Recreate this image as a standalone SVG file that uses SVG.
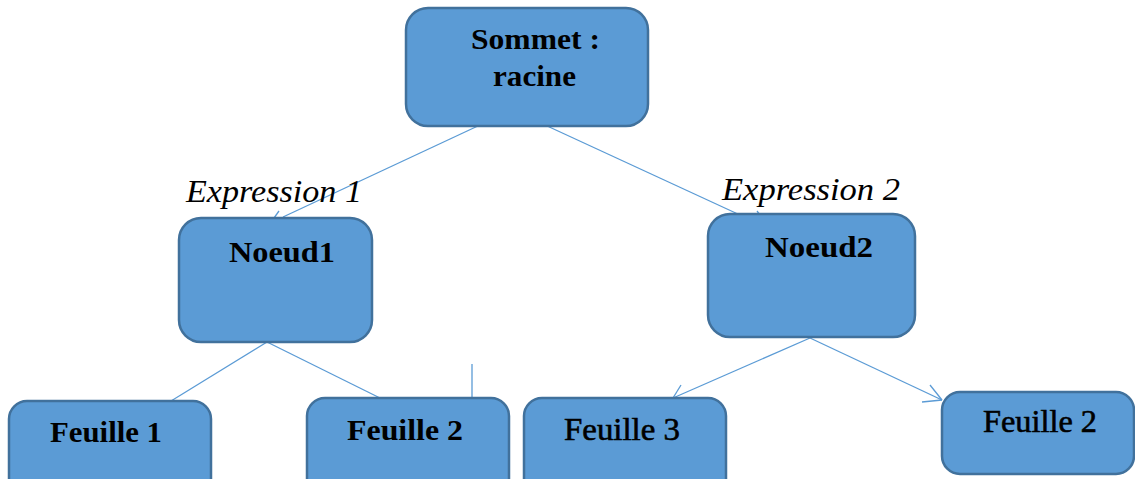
<svg xmlns="http://www.w3.org/2000/svg" width="1135" height="479" viewBox="0 0 1135 479">
<style>
.box{fill:#5B9BD5;stroke:#41719C;stroke-width:2.5}
.c{stroke:#5B9BD5;stroke-width:1.3;fill:none}
.b{font-family:"Liberation Serif",serif;font-weight:bold;font-size:29px;fill:#000}
.r{font-family:"Liberation Serif",serif;font-size:32px;fill:#000;stroke:#000;stroke-width:0.6}
.i{font-family:"Liberation Serif",serif;font-style:italic;font-size:32px;fill:#000}
</style>
<rect width="1135" height="479" fill="#fff"/>
<g id="connectors">
<line class="c" x1="480" y1="125" x2="283" y2="217"/>
<line class="c" x1="279" y1="211" x2="274" y2="218"/>
<line class="c" x1="545" y1="125" x2="740" y2="215"/>
<line class="c" x1="757" y1="211" x2="760" y2="215"/>
<line class="c" x1="267" y1="342" x2="171" y2="401"/>
<line class="c" x1="267" y1="342" x2="380" y2="398"/>
<line class="c" x1="472" y1="364" x2="472" y2="398"/>
<line class="c" x1="810" y1="338" x2="673" y2="398"/>
<line class="c" x1="681" y1="385" x2="673" y2="398"/>
<line class="c" x1="810" y1="338" x2="942" y2="400"/>
<line class="c" x1="930" y1="385" x2="942" y2="400"/>
<line class="c" x1="922" y1="402" x2="942" y2="400"/>
</g>
<g id="sommet">
<rect class="box" x="406" y="8" width="242" height="118" rx="22"/>
<text class="b" x="471" y="49" textLength="129" lengthAdjust="spacingAndGlyphs">Sommet :</text>
<text class="b" x="493" y="86" textLength="83" lengthAdjust="spacingAndGlyphs">racine</text>
</g>
<g id="expr1"><text class="i" x="186" y="202" textLength="176" lengthAdjust="spacingAndGlyphs">Expression 1</text></g>
<g id="expr2"><text class="i" x="722" y="200" textLength="178" lengthAdjust="spacingAndGlyphs">Expression 2</text></g>
<g id="noeud1">
<rect class="box" x="179" y="218" width="193" height="124" rx="22"/>
<text class="b" x="229" y="262" textLength="106" lengthAdjust="spacingAndGlyphs">Noeud1</text>
</g>
<g id="noeud2">
<rect class="box" x="708" y="214" width="207" height="123" rx="22"/>
<text class="b" x="765" y="257" textLength="108" lengthAdjust="spacingAndGlyphs">Noeud2</text>
</g>
<g id="feuille1">
<rect class="box" x="9" y="401" width="202" height="100" rx="18"/>
<text class="b" x="50" y="442" textLength="112" lengthAdjust="spacingAndGlyphs">Feuille 1</text>
</g>
<g id="feuille2a">
<rect class="box" x="307" y="398" width="202" height="100" rx="18"/>
<text class="b" x="347" y="440" textLength="116" lengthAdjust="spacingAndGlyphs">Feuille 2</text>
</g>
<g id="feuille3">
<rect class="box" x="524" y="398" width="202" height="100" rx="18"/>
<text class="r" x="564" y="440" textLength="116" lengthAdjust="spacingAndGlyphs">Feuille 3</text>
</g>
<g id="feuille2b">
<rect class="box" x="942" y="392" width="192" height="82" rx="18"/>
<text class="r" x="983" y="432" textLength="114" lengthAdjust="spacingAndGlyphs">Feuille 2</text>
</g>
</svg>
